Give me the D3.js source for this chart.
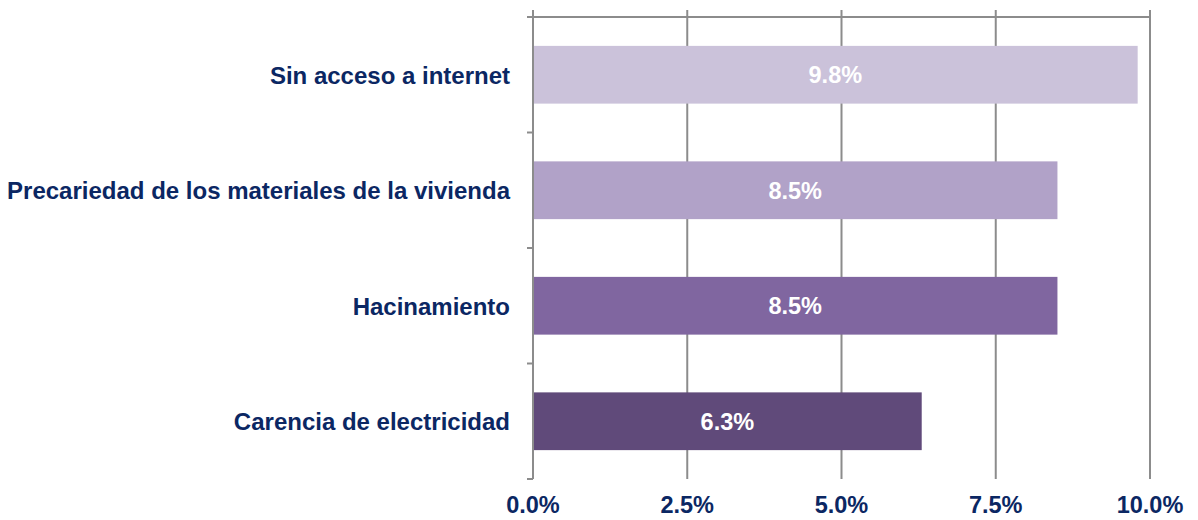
<!DOCTYPE html>
<html>
<head>
<meta charset="utf-8">
<script src="https://cdn.jsdelivr.net/npm/d3@7"></script>
<style>
  body { margin: 0; background: #fff; }
  text { font-family: "Liberation Sans", Arial, sans-serif; font-weight: bold; }
</style>
</head>
<body>
<script>
// chart data
var categories = ["Sin acceso a internet", "Precariedad de los materiales de la vivienda", "Hacinamiento", "Carencia de electricidad"];
var values = [9.8, 8.5, 8.5, 6.3];
var colors = ["#cbc2da", "#b1a2c8", "#8066a0", "#604a7a"];
var xTicks = [0, 2.5, 5, 7.5, 10];

var options = {
  width: 1198,
  height: 520,
  left: 533,
  right: 1150,
  top: 17,
  bottom: 479,
  navy: "#0b2763",
  grid: "#8c8c8c"
};

var svg = d3.select('body').append('svg')
  .attr('width', options.width)
  .attr('height', options.height);

var x = d3.scaleLinear().domain([0, 10]).range([options.left, options.right]);
var y = d3.scaleBand().domain(categories)
  .range([options.top, options.bottom])
  .paddingInner(0.5).paddingOuter(0.25);

// vertical gridlines (with little ticks sticking above the top line)
svg.selectAll('line.grid')
  .data(xTicks)
  .enter().append('line')
  .attr('class', 'grid')
  .attr('x1', function(d){ return x(d); })
  .attr('x2', function(d){ return x(d); })
  .attr('y1', options.top - 7)
  .attr('y2', options.bottom)
  .attr('stroke', options.grid)
  .attr('stroke-width', 2);

// top line
svg.append('line')
  .attr('x1', options.left - 6).attr('x2', options.right)
  .attr('y1', options.top).attr('y2', options.top)
  .attr('stroke', options.grid).attr('stroke-width', 2);

// category tick marks at band boundaries
var bounds = categories.map(function(c){ return y(c) - y.step() * y.paddingInner() / 2; });
bounds.push(options.bottom);
svg.selectAll('line.ctick')
  .data(bounds)
  .enter().append('line')
  .attr('class', 'ctick')
  .attr('x1', options.left - 6).attr('x2', options.left)
  .attr('y1', function(d){ return d; }).attr('y2', function(d){ return d; })
  .attr('stroke', options.grid).attr('stroke-width', 2);

// bars
svg.selectAll('rect.bar')
  .data(values)
  .enter().append('rect')
  .attr('class', 'bar')
  .attr('x', x(0))
  .attr('y', function(d, i){ return y(categories[i]); })
  .attr('width', function(d){ return x(d) - x(0); })
  .attr('height', y.bandwidth())
  .attr('fill', function(d, i){ return colors[i]; });

// left axis line on top of bars
svg.append('line')
  .attr('x1', options.left).attr('x2', options.left)
  .attr('y1', options.top - 7).attr('y2', options.bottom)
  .attr('stroke', options.grid).attr('stroke-width', 2);

// value labels inside bars
svg.selectAll('text.val')
  .data(values)
  .enter().append('text')
  .attr('class', 'val')
  .attr('x', function(d){ return (x(0) + x(d)) / 2; })
  .attr('y', function(d, i){ return y(categories[i]) + y.bandwidth() / 2; })
  .attr('dy', '0.36em')
  .attr('text-anchor', 'middle')
  .attr('fill', '#fff')
  .attr('font-size', '23.5px')
  .text(function(d){ return d.toFixed(1) + '%'; });

// category labels
svg.selectAll('text.cat')
  .data(categories)
  .enter().append('text')
  .attr('class', 'cat')
  .attr('x', 510)
  .attr('y', function(d){ return y(d) + y.bandwidth() / 2; })
  .attr('dy', '0.38em')
  .attr('text-anchor', 'end')
  .attr('fill', options.navy)
  .attr('font-size', '24px')
  .text(function(d){ return d; });

// x tick labels at bottom
svg.selectAll('text.xt')
  .data(xTicks)
  .enter().append('text')
  .attr('class', 'xt')
  .attr('x', function(d){ return x(d); })
  .attr('y', 513)
  .attr('text-anchor', 'middle')
  .attr('fill', options.navy)
  .attr('font-size', '23.5px')
  .text(function(d){ return d.toFixed(1) + '%'; });
</script>
</body>
</html>
